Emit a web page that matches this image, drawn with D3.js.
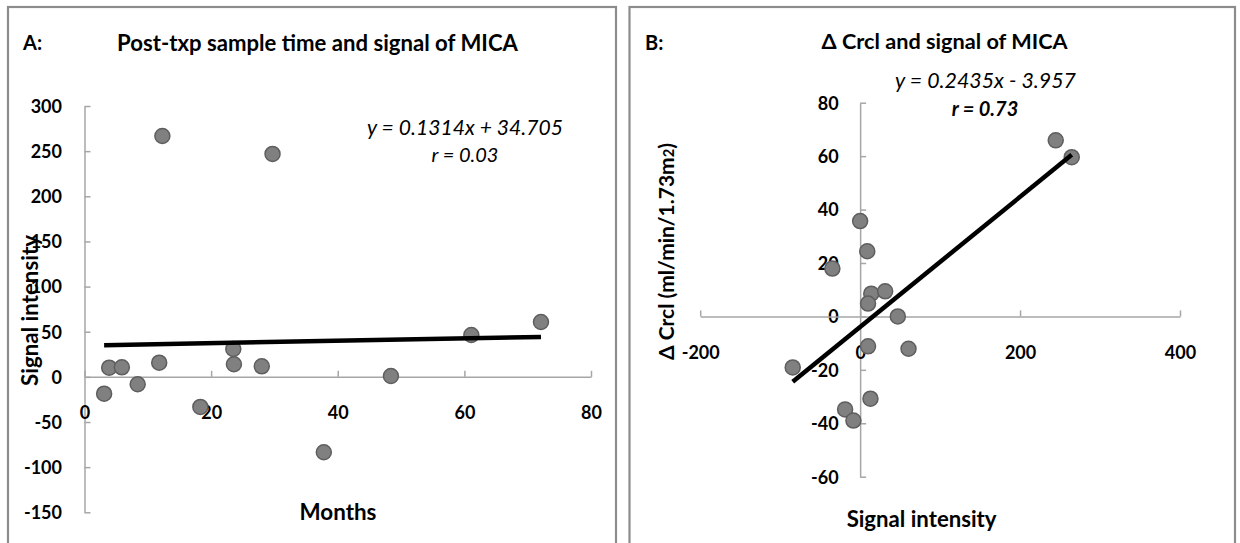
<!DOCTYPE html>
<html>
<head>
<meta charset="utf-8">
<script src="https://cdn.jsdelivr.net/npm/d3@7"></script>
<style>
  html, body { margin: 0; padding: 0; background: #fff; }
  svg { display: block; }
  text { font-family: Lato, "Open Sans", sans-serif; fill: #000; }
</style>
</head>
<body>
<svg id="chart" width="1240" height="543"></svg>
<script>
// ---------- Data ----------
// Panel A: post-transplant sample time (months) vs MICA signal intensity
const monthsA = [3.1, 3.9, 5.9, 8.4, 11.8, 18.3, 23.5, 23.6, 28.0, 37.8, 48.4, 61.1, 72.1, 12.3, 29.7];
const signalA = [-18.6, 10.2, 10.6, -8.2, 15.7, -33.3, 30.9, 14.0, 11.7, -83.5, 1.0, 46.4, 60.8, 266.8, 246.9];
// Panel B: MICA signal intensity vs delta creatinine clearance
const signalB = [244.6, 264.6, 0, 8.9, -34.7, 13.9, 31.3, 9.9, 47.1, 9.9, 60.5, -84.3, 12.9, -18.8, -8.4];
const dCrclB  = [65.9, 59.6, 35.7, 24.4, 17.9, 8.5, 9.4, 4.8, 0, -11.2, -12.1, -19.1, -30.8, -34.8, -39.0];
// Axis ticks
const xTicksA = [0, 20, 40, 60, 80];
const yTicksA = [-150, -100, -50, 0, 50, 100, 150, 200, 250, 300];
const xTicksB = [-200, 0, 200, 400];
const yTicksB = [-60, -40, -20, 0, 20, 40, 60, 80];
// Trend lines (slope, intercept) as printed
const fitA = [0.1314, 34.705];
const fitB = [0.2435, -3.957];
// Texts
const titleA = "Post-txp sample time and signal of MICA";
const titleB = "\u0394 Crcl and signal of MICA";
const eqA = "y = 0.1314x + 34.705";
const rA = "r = 0.03";
const eqB = "y = 0.2435x - 3.957";
const rB = "r = 0.73";

// ---------- Drawing ----------
const svg = d3.select("#chart");
const axisColor = "#a6a6a6";
const borderColor = "#8c8c8c";
const dotFill = "#808080";
const dotStroke = "#5e5e5e";

// fit a text element to a target width by adjusting font size
function fit(sel, w) {
  const n = sel.node();
  const fs = parseFloat(sel.style("font-size"));
  const len = n.getComputedTextLength();
  if (len > 0) sel.style("font-size", (fs * w / len).toFixed(2) + "px");
  return sel;
}

// Panel frames
svg.append("rect").attr("x", 8).attr("y", 7).attr("width", 608).attr("height", 600)
  .attr("fill", "none").attr("stroke", borderColor).attr("stroke-width", 2.2);
svg.append("rect").attr("x", 629.5).attr("y", 7).attr("width", 605.5).attr("height", 600)
  .attr("fill", "none").attr("stroke", borderColor).attr("stroke-width", 2.2);

function styleAxis(g) {
  g.attr("font-family", null).attr("font-size", null);
  g.select(".domain").attr("stroke", axisColor).attr("stroke-width", 1.5);
  g.selectAll(".tick line").attr("stroke", axisColor).attr("stroke-width", 1.5);
  g.selectAll(".tick text")
    .style("font-family", "Lato, sans-serif")
    .style("font-weight", "700").style("font-size", "18px").attr("fill", "#000");
}

function panel(opt) {
  const x = d3.scaleLinear().domain(opt.xDomain).range(opt.xRange);
  const y = d3.scaleLinear().domain(opt.yDomain).range(opt.yRange);
  const g = svg.append("g");
  const fmt = d => String(d);

  // y axis at x = 0
  const ya = g.append("g").attr("transform", `translate(${x(0)},0)`)
    .call(d3.axisLeft(y).tickValues(opt.yTicks).tickSizeInner(-6).tickSizeOuter(0)
      .tickPadding(opt.yLabelGap).tickFormat(fmt));
  styleAxis(ya);
  ya.selectAll(".tick text").attr("dy", "0.35em");

  // x axis at y = 0
  const xa = g.append("g").attr("transform", `translate(0,${y(0)})`)
    .call(d3.axisBottom(x).tickValues(opt.xTicks).tickSizeInner(-6).tickSizeOuter(0)
      .tickFormat(fmt));
  styleAxis(xa);
  xa.selectAll(".tick text").attr("y", opt.xLabelY - y(0)).attr("dy", "0.35em");

  // points
  g.append("g").selectAll("circle").data(opt.xs.map((v, i) => [v, opt.ys[i]]))
    .join("circle")
    .attr("cx", d => x(d[0])).attr("cy", d => y(d[1])).attr("r", 7.5)
    .attr("fill", dotFill).attr("stroke", dotStroke).attr("stroke-width", 1.5);

  // trend line
  const x0 = d3.min(opt.xs), x1 = d3.max(opt.xs);
  const f = v => opt.fit[0] * v + opt.fit[1];
  g.append("line")
    .attr("x1", x(x0)).attr("y1", y(f(x0)))
    .attr("x2", x(x1)).attr("y2", y(f(x1)))
    .attr("stroke", "#000").attr("stroke-width", 4.5);
  return { x, y };
}

panel({
  xDomain: [0, 80], xRange: [84.5, 591],
  yDomain: [-150, 300], yRange: [512.3, 106],
  xTicks: xTicksA, yTicks: yTicksA,
  xs: monthsA, ys: signalA, fit: fitA,
  yLabelGap: 22.5, xLabelY: 413
});
panel({
  xDomain: [-200, 400], xRange: [700.2, 1180],
  yDomain: [-60, 80], yRange: [476.7, 102.7],
  xTicks: xTicksB, yTicks: yTicksB,
  xs: signalB, ys: dCrclB, fit: fitB,
  yLabelGap: 21.5, xLabelY: 352.7
});

function txt(s, x, y, o = {}) {
  const t = svg.append("text").attr("x", x).attr("y", y)
    .attr("text-anchor", o.anchor || "middle").attr("dy", "0.35em")
    .style("font-size", (o.size || 20) + "px")
    .style("font-weight", o.bold ? "700" : "400")
    .style("font-style", o.italic ? "italic" : "normal")
    .text(s);
  if (o.rotate) t.attr("transform", `rotate(-90,${x},${y})`);
  if (o.width) fit(t, o.width);
  return t;
}

// Panel A texts
txt("A:", 23, 43, { anchor: "start", bold: true, size: 20 });
txt(titleA, 317.5, 43, { bold: true, size: 20, width: 401 });
txt(eqA, 465, 128, { italic: true, size: 20, width: 196 });
txt(rA, 465, 155, { italic: true, size: 20 });
txt("Months", 338, 512, { bold: true, size: 21, width: 77 });
txt("Signal intensity", 30, 310.5, { bold: true, size: 20, rotate: true, width: 151 });

// Panel B texts
txt("B:", 645, 43, { anchor: "start", bold: true, size: 20 });
txt(titleB, 944.6, 41, { bold: true, size: 20, width: 246 });
txt(eqB, 985.5, 81, { italic: true, size: 20, width: 181 });
txt(rB, 985, 109, { italic: true, bold: true, size: 20 });
txt("Signal intensity", 921.6, 519, { bold: true, size: 20, width: 150 });

// rotated y label with small "2"
const yl = svg.append("text").attr("x", 667).attr("y", 251.5)
  .attr("text-anchor", "middle").attr("dy", "0.35em")
  .style("font-size", "20px").style("font-weight", "700")
  .attr("transform", "rotate(-90,667,251.5)");
yl.append("tspan").text("\u0394 Crcl (ml/min/1.73m");
const sub = yl.append("tspan").style("font-size", "14px").text("2");
yl.append("tspan").text(")");
(function () {
  const len = yl.node().getComputedTextLength();
  const k = 217 / len;
  yl.style("font-size", (20 * k).toFixed(2) + "px");
  sub.style("font-size", (14 * k).toFixed(2) + "px");
})();
</script>
</body>
</html>
